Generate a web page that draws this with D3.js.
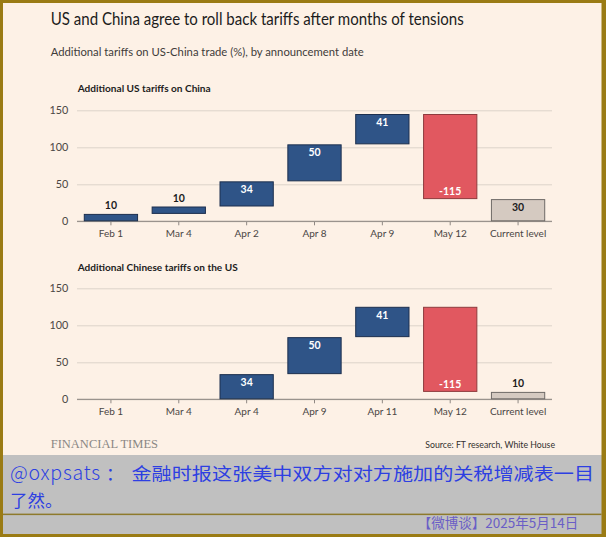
<!DOCTYPE html>
<html><head><meta charset="utf-8">
<script src="https://cdn.jsdelivr.net/npm/d3@7"></script>
<style>body{margin:0;background:#fff;} svg{display:block;}</style>
</head><body>
<script>
// ---- data ----
const categoriesUS = ["Feb 1", "Mar 4", "Apr 2", "Apr 8", "Apr 9", "May 12", "Current level"];
const valuesUS = [10, 10, 34, 50, 41, -115, 30];        // last = current level (total)
const categoriesCN = ["Feb 1", "Mar 4", "Apr 4", "Apr 9", "Apr 11", "May 12", "Current level"];
const valuesCN = [0, 0, 34, 50, 41, -115, 10];          // last = current level (total)
const yTickValues = [0, 50, 100, 150];

const W = 606, H = 537;
const FONT = "Lato, 'Open Sans', 'Noto Sans', sans-serif";
const svg = d3.select("body").append("svg").attr("width", W).attr("height", H);

// frame
svg.append("rect").attr("width", W).attr("height", H).attr("fill", "#9a7b14");
svg.append("rect").attr("x", 3).attr("y", 3).attr("width", 598.5).attr("height", 452).attr("fill", "#fdf1e6");
svg.append("rect").attr("x", 3).attr("y", 455).attr("width", 598.5).attr("height", 79).attr("fill", "#c0c0c0");
svg.append("rect").attr("x", 3).attr("y", 513.6).attr("width", 598.5).attr("height", 1.5).attr("fill", "#8e7a2c");

function fit(sel, w, mode) {
  const n = sel.node();
  const len = n.getComputedTextLength();
  if (Math.abs(len - w) > 1) sel.attr("textLength", w).attr("lengthAdjust", mode || "spacingAndGlyphs");
  return sel;
}

// titles
fit(svg.append("text").attr("x", 50.7).attr("y", 25).attr("font-family", FONT).attr("font-size", 16.5)
  .attr("fill", "#1c1c1c").text("US and China agree to roll back tariffs after months of tensions"), 413);
fit(svg.append("text").attr("x", 50.7).attr("y", 56.3).attr("font-family", FONT).attr("font-size", 11.6)
  .attr("fill", "#3f3c3a").text("Additional tariffs on US-China trade (%), by announcement date"), 313);

const xRange = [77, 552];

function panel(title, titleW, titleY, cats, vals, yTop, yZero) {
  const g = svg.append("g");
  fit(g.append("text").attr("x", 77.7).attr("y", titleY).attr("font-family", FONT).attr("font-size", 10.2)
    .attr("font-weight", "bold").attr("fill", "#1c1c1c").text(title), titleW);

  const x = d3.scaleBand().domain(cats).range(xRange).paddingInner(0.2).paddingOuter(0.1);
  const y = d3.scaleLinear().domain([0, 150]).range([yZero, yTop]);

  // grid + y labels
  const ya = g.append("g").attr("transform", `translate(${xRange[0]},0)`)
    .call(d3.axisLeft(y).tickValues(yTickValues).tickSize(-(xRange[1] - xRange[0])).tickPadding(8.7));
  ya.select(".domain").remove();
  ya.selectAll(".tick line").attr("stroke", "#dcd3c9").attr("stroke-width", 1);
  ya.selectAll(".tick text").attr("font-family", FONT).attr("font-size", 10.8).attr("fill", "#4a4644");

  // bars (waterfall)
  let cum = 0;
  const bars = vals.map((v, i) => {
    const isTotal = i === vals.length - 1;
    let start, end;
    if (isTotal) { start = 0; end = v; }
    else { start = cum; end = cum + v; cum = end; }
    return { cat: cats[i], v, start, end, isTotal };
  }).filter(d => d.v !== 0);

  const fillOf = d => d.isTotal ? "#d5cac1" : (d.v > 0 ? "#2f5487" : "#e15860");
  const strokeOf = d => d.isTotal ? "#6e6a67" : (d.v > 0 ? "#1c2f4e" : "#8e3b3e");

  // baseline axis with ticks
  const xa = g.append("g").attr("transform", `translate(0,${yZero})`)
    .call(d3.axisBottom(x).tickSize(4).tickPadding(4.3));
  xa.select(".domain").remove();
  xa.selectAll(".tick line").attr("stroke", "#8f8883").attr("stroke-width", 1);
  xa.selectAll(".tick text").attr("font-family", FONT).attr("font-size", 10).attr("fill", "#4a4644");
  g.append("line").attr("x1", xRange[0]).attr("x2", xRange[1]).attr("y1", yZero).attr("y2", yZero)
    .attr("stroke", "#9a938d").attr("stroke-width", 1.3);

  g.selectAll("rect.bar").data(bars).join("rect").attr("class", "bar")
    .attr("x", d => x(d.cat) + 0.5)
    .attr("width", x.bandwidth() - 1)
    .attr("y", d => y(Math.max(d.start, d.end)) + 0.5)
    .attr("height", d => Math.abs(y(d.start) - y(d.end)) - 1)
    .attr("fill", fillOf).attr("stroke", strokeOf).attr("stroke-width", 1);

  g.selectAll("text.val").data(bars).join("text").attr("class", "val")
    .attr("x", d => x(d.cat) + x.bandwidth() / 2)
    .attr("y", d => {
      const top = y(Math.max(d.start, d.end)), bot = y(Math.min(d.start, d.end));
      if (Math.abs(d.v) < 15) return top - 4.5;
      if (d.v < 0) return bot - 4;
      return top + 12;
    })
    .attr("text-anchor", "middle").attr("font-family", FONT).attr("font-size", 10.5).attr("font-weight", "bold")
    .attr("fill", d => (Math.abs(d.v) < 15 || d.isTotal) ? "#1c1c1c" : "#ffffff")
    .text(d => d.v);
}

panel("Additional US tariffs on China", 133, 92.3, categoriesUS, valuesUS, 110.3, 221.3);
panel("Additional Chinese tariffs on the US", 160, 270.7, categoriesCN, valuesCN, 288.3, 399.3);

// footer
fit(svg.append("text").attr("x", 50.7).attr("y", 447.7).attr("font-family", "'Liberation Serif', 'DejaVu Serif', serif")
  .attr("font-size", 12.5).attr("fill", "#8a8784").text("FINANCIAL TIMES"), 107);
fit(svg.append("text").attr("x", 425.3).attr("y", 448.3).attr("font-family", FONT).attr("font-size", 9.6)
  .attr("fill", "#33302e").text("Source: FT research, White House"), 129.7);

// watermark caption
const CJK = "'Noto Sans CJK SC', 'Noto Sans', sans-serif";
fit(svg.append("text").attr("font-family", CJK).attr("fill", "#2d3fe2").attr("font-size", 19.5).attr("font-weight", 300)
  .attr("x", 10).attr("y", 480).text("@oxpsats"), 90, "spacing");
svg.append("text").attr("font-family", CJK).attr("fill", "#2d3fe2").attr("font-size", 17.5)
  .attr("x", 106).attr("y", 480).text("：");
const t2 = svg.append("text").attr("font-family", CJK).attr("fill", "#2d3fe2").attr("font-size", 17.5)
  .attr("x", 131.5).attr("y", 480).text("金融时报这张美中双方对对方施加的关税增减表一目");
fit(t2, 462.5);
svg.append("text").attr("font-family", CJK).attr("fill", "#2d3fe2").attr("font-size", 17.5)
  .attr("x", 10).attr("y", 506.5).text("了然。");
fit(svg.append("text").attr("font-family", CJK).attr("fill", "#6a5ec6").attr("font-size", 13.5)
  .attr("x", 417.7).attr("y", 527.7).text("【微博谈】2025年5月14日"), 160.3);
</script>
</body></html>
